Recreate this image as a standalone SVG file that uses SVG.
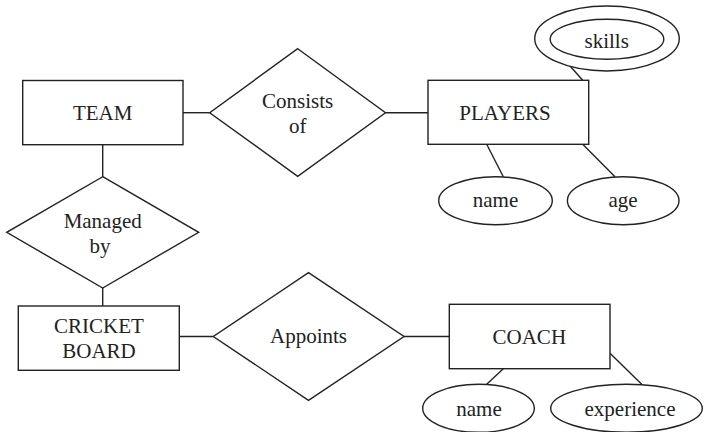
<svg xmlns="http://www.w3.org/2000/svg" width="705" height="432" viewBox="0 0 705 432">
  <style>
    .shape { fill: #fff; stroke: #222; stroke-width: 1.4; }
    .link { fill: none; stroke: #222; stroke-width: 1.4; }
    .label { font-family: "Times New Roman", Times, "Liberation Serif", serif; font-size: 21px; fill: #222; text-anchor: middle; }
  </style>
  <rect width="705" height="432" fill="#fff"/>

  <!-- connectors -->
  <g id="connectors">
    <line class="link" x1="183" y1="112.7" x2="209.7" y2="112.7"/>
    <line class="link" x1="385.5" y1="112.7" x2="428" y2="112.7"/>
    <line class="link" x1="102.7" y1="144.7" x2="102.7" y2="176.7"/>
    <line class="link" x1="102.7" y1="288" x2="102.7" y2="306"/>
    <line class="link" x1="179.3" y1="336.5" x2="213.3" y2="336.5"/>
    <line class="link" x1="404" y1="336.5" x2="449.3" y2="336.5"/>
    <line class="link" x1="570" y1="66" x2="582.7" y2="80.3"/>
    <line class="link" x1="486.7" y1="144.3" x2="503.3" y2="176.7"/>
    <line class="link" x1="582.7" y1="144.3" x2="615" y2="176.7"/>
    <line class="link" x1="503.3" y1="368.7" x2="486.7" y2="384.3"/>
    <line class="link" x1="610" y1="353.3" x2="641.7" y2="384.3"/>
  </g>

  <!-- entities -->
  <g id="team">
    <rect class="shape" x="22.7" y="80.5" width="160.3" height="64.2"/>
    <text class="label" x="102.7" y="120">TEAM</text>
  </g>
  <g id="players">
    <rect class="shape" x="428" y="80.3" width="160.7" height="64"/>
    <text class="label" x="505" y="120">PLAYERS</text>
  </g>
  <g id="cricket-board">
    <rect class="shape" x="18.3" y="306" width="161" height="64.3"/>
    <text class="label" x="99" y="332.7">CRICKET</text>
    <text class="label" x="99" y="357.7">BOARD</text>
  </g>
  <g id="coach">
    <rect class="shape" x="449.3" y="304.3" width="160.7" height="64.4"/>
    <text class="label" x="529.3" y="344">COACH</text>
  </g>

  <!-- relationships -->
  <g id="consists-of">
    <polygon class="shape" points="297.7,48.7 385.5,112.7 297.7,176.3 209.7,112.7"/>
    <text class="label" x="297.7" y="108">Consists</text>
    <text class="label" x="297.7" y="132.7">of</text>
  </g>
  <g id="managed-by">
    <polygon class="shape" points="102.7,176.7 198.7,232.3 102.7,288 6.7,232.3"/>
    <text class="label" x="102.7" y="228.3">Managed</text>
    <text class="label" x="100" y="252.7">by</text>
  </g>
  <g id="appoints">
    <polygon class="shape" points="308.5,272.7 404,336.5 308.5,400.3 213.3,336.5"/>
    <text class="label" x="308.5" y="343.3">Appoints</text>
  </g>

  <!-- attributes -->
  <g id="skills">
    <ellipse class="shape" cx="607" cy="38.5" rx="72.3" ry="32.5"/>
    <ellipse class="shape" cx="607" cy="39.3" rx="56.8" ry="20"/>
    <text class="label" x="606.7" y="47.7">skills</text>
  </g>
  <g id="player-name">
    <ellipse class="shape" cx="495.5" cy="200.7" rx="56.8" ry="24"/>
    <text class="label" x="495.5" y="206.7">name</text>
  </g>
  <g id="age">
    <ellipse class="shape" cx="623.2" cy="200.7" rx="55.8" ry="24"/>
    <text class="label" x="623" y="206.7">age</text>
  </g>
  <g id="coach-name">
    <ellipse class="shape" cx="478.5" cy="408.3" rx="55.8" ry="24"/>
    <text class="label" x="479" y="415.7">name</text>
  </g>
  <g id="experience">
    <ellipse class="shape" cx="626.5" cy="408.3" rx="75.8" ry="24"/>
    <text class="label" x="630" y="415.7">experience</text>
  </g>
</svg>
